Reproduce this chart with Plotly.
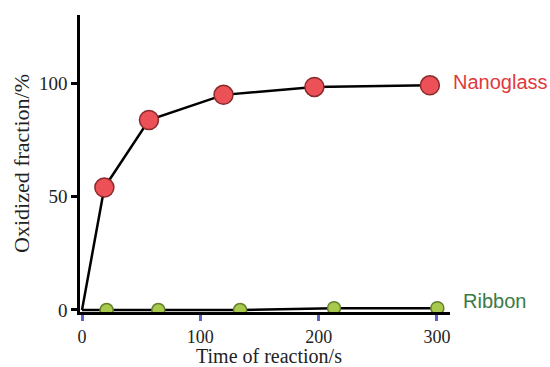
import plotly.graph_objects as go

nano_t = [0, 18.9, 56.6, 119.6, 196.4, 294]
nano_y = [0, 54, 83.7, 94.8, 98.3, 99]
ribbon_t = [0, 20.8, 64.5, 133.6, 213, 300.3]
ribbon_y = [0, 0, 0, 0, 0.8, 0.8]
x_ticks = [0, 100, 200, 300]
y_ticks = [0, 50, 100]

fig = go.Figure()
fig.add_trace(go.Scatter(x=ribbon_t, y=ribbon_y, mode="lines", line=dict(color="black", width=2.5),
                         hoverinfo="skip", showlegend=False))
fig.add_trace(go.Scatter(x=ribbon_t[1:], y=ribbon_y[1:], mode="markers",
                         marker=dict(size=13, color="#a9c94c", line=dict(color="#62802c", width=1.5)),
                         showlegend=False))
fig.add_trace(go.Scatter(x=nano_t, y=nano_y, mode="lines", line=dict(color="black", width=2.5),
                         hoverinfo="skip", showlegend=False))
fig.add_trace(go.Scatter(x=nano_t[1:], y=nano_y[1:], mode="markers",
                         marker=dict(size=19, color="#ec5158", line=dict(color="#8a2a2a", width=1.5)),
                         showlegend=False))

fig.add_annotation(x=1.003, y=100.5, xref="x domain", yref="y", text="Nanoglass", showarrow=False,
                   xanchor="left", yanchor="middle",
                   font=dict(family="Liberation Sans, Arial", size=20, color="#e0393c"))
fig.add_annotation(x=1.03, y=4, xref="x domain", yref="y", text="Ribbon", showarrow=False,
                   xanchor="left", yanchor="middle",
                   font=dict(family="Liberation Sans, Arial", size=20, color="#3a7a45"))

serif = "Liberation Serif, DejaVu Serif, serif"
fig.add_annotation(x=0.51, y=-0.148, xref="paper", yref="paper", text="Time of reaction/s",
                   showarrow=False, xanchor="center", yanchor="middle",
                   font=dict(family=serif, size=20, color="#222"))

fig.update_layout(
    width=550, height=367,
    margin=dict(l=80, r=100, t=15, b=55),
    paper_bgcolor="white", plot_bgcolor="white",
    font=dict(family=serif, size=19, color="#222"),
    xaxis=dict(range=[-1.7, 311], tickvals=x_ticks, showgrid=False, zeroline=False, automargin=False,
               showline=True, linecolor="black", linewidth=3,
               ticks="outside", ticklen=6, tickwidth=2.5, tickcolor="#5a63c4",
               tickfont=dict(family=serif, size=18)),
    yaxis=dict(range=[-0.9, 130], tickvals=y_ticks, showgrid=False, zeroline=False, automargin=False,
               showline=True, linecolor="black", linewidth=2.5,
               ticks="outside", ticklen=6, tickwidth=2.5, tickcolor="black",
               title=dict(text="Oxidized fraction/%", standoff=4, font=dict(family=serif, size=22)),
               tickfont=dict(family=serif, size=19)),
)
fig.write_html("out.html", config={"displayModeBar": False},
               post_script="document.body.style.margin='0';document.body.style.overflow='hidden';")
